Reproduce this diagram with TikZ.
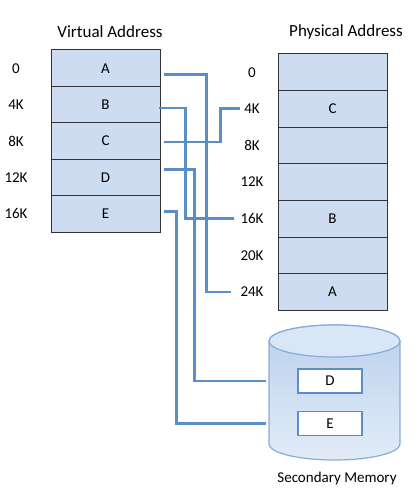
\documentclass[tikz,border=0pt]{standalone}
\usepackage{fontspec}
\setmainfont{Carlito}
\definecolor{rowblue}{RGB}{205,220,240}
\definecolor{linkblue}{RGB}{92,142,198}
\definecolor{disktop}{RGB}{186,208,236}
\definecolor{diskbot}{RGB}{226,236,248}
\definecolor{diskcap}{RGB}{216,230,246}
\definecolor{diskline}{RGB}{135,172,215}

\begin{document}
\begin{tikzpicture}[x=1pt,y=1pt]
  \tikzset{vrow/.style={minimum width=109,minimum height=36.4,fill=rowblue,draw=black!80,line width=1pt,font=\fontsize{15}{17}\selectfont},
    prow/.style={vrow,minimum height=36.6},
    addr/.style={inner sep=0,font=\fontsize{15}{17}\selectfont},
    title/.style={font=\fontsize{17}{20}\selectfont},
    slot/.style={minimum width=64,minimum height=24,fill=white,draw=linkblue,line width=1.8pt,font=\fontsize{15}{17}\selectfont},
    link/.style={draw=linkblue,line width=2.8pt}}
  \useasboundingbox (0,0) rectangle (416,-497);

  \node[title] (vtitle) at (110,-32) {Virtual Address};
  \node[title] (ptitle) at (346,-32) {Physical Address};

  \foreach \i/\lab/\txt in {0/0/A,1/4K/B,2/8K/C,3/12K/D,4/16K/E} {
    \node[vrow] (virt\i) at (105.5,{-68.2-36.4*\i}) {\txt};
    \node[addr] (vaddr\i) at (16,{-68.2-36.4*\i}) {\lab};
  }
  \foreach \i/\lab/\txt in {0/0/{},1/4K/C,2/8K/{},3/12K/{},4/16K/B,5/20K/{},6/24K/A} {
    \node[prow] (phys\i) at (332.5,{-72.3-36.6*\i}) {\txt};
    \node[addr] (paddr\i) at (252,{-72.3-36.6*\i}) {\lab};
  }

  % secondary memory
  \shadedraw[top color=disktop,bottom color=diskbot,draw=diskline,line width=1.2pt] (269,-341) -- (269,-444)
    arc[start angle=180,end angle=360,x radius=65.5,y radius=16] -- (400,-341)
    arc[start angle=0,end angle=180,x radius=65.5,y radius=16] -- cycle;
  \draw[fill=diskcap,draw=diskline,line width=1.2pt] (334.5,-341) ellipse[x radius=65.5,y radius=16];
  \node[slot] (slotD) at (330,-381) {D};
  \node[slot] (slotE) at (330,-423.5) {E};
  \node[addr] (disk) at (337,-478) {Secondary Memory};

  \draw[link] ([shift={(3,-6)}]virt0.east) -| ([xshift=-34]paddr6.west) -- ([xshift=-9]paddr6.west);
  \draw[link] ([shift={(-2,-3.5)}]virt1.east) -| ([xshift=-55]paddr4.west) -- ([xshift=-6]paddr4.west);
  \draw[link] ([shift={(3,-1)}]virt2.east) -| ([xshift=-24]paddr1.west) -- ([xshift=-4]paddr1.west);
  \draw[link] ([shift={(3,8)}]virt3.east) -| ([xshift=-103]slotD.west) -- ([xshift=-31]slotD.west);
  \draw[link] ([shift={(3,2)}]virt4.east) -| ([xshift=-121]slotE.west) -- ([xshift=-31]slotE.west);
\end{tikzpicture}
\end{document}
